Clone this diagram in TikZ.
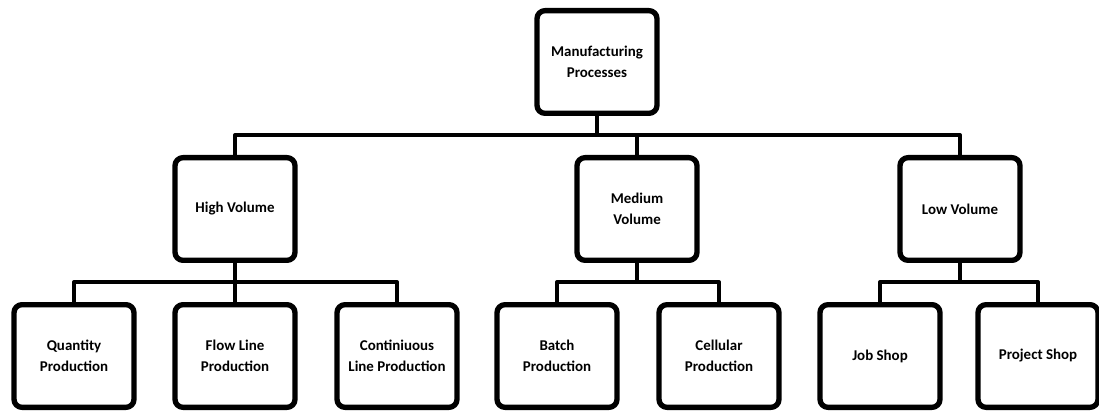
\documentclass[tikz,border=0pt]{standalone}
\usepackage{fontspec}
\setmainfont{Carlito}
\usepackage{tikz}
\usetikzlibrary{positioning,calc}

\begin{document}
\begin{tikzpicture}[
	x=0.75pt,y=-0.75pt,
	line cap=round,line join=round,
	procbox/.style={draw=black, line width=4pt, rounded corners=6pt, fill=white,
		minimum width=90pt, minimum height=77pt, align=center,
		font=\bfseries\fontsize{11.2}{16}\selectfont},
	conn/.style={black, line width=3pt}
	]
	% ---- parameters
	\def\topY{62}      % centre row 0
	\def\midY{209}     % centre row 1
	\def\botY{356}     % centre row 2
	\def\stub{19}      % drop from box to bus
	
	% page size
	\useasboundingbox (0,0) rectangle (1099,413);
	
	% ---- boxes
	\node[procbox] (mp)    at (597,\topY) {Manufacturing\\Processes};
	
	\node[procbox] (high)  at (235,\midY) {High Volume};
	\node[procbox] (med)   at (637,\midY) {Medium\\Volume};
	\node[procbox] (low)   at (960,\midY) {Low Volume};
	
	\node[procbox] (qty)   at (74,\botY)   {Quantity\\Production};
	\node[procbox] (flow)  at (235,\botY)  {Flow Line\\Production};
	\node[procbox] (cont)  at (397,\botY)  {Continiuous\\Line Production};
	\node[procbox] (batch) at (557,\botY)  {Batch\\Production};
	\node[procbox] (cell)  at (719,\botY)  {Cellular\\Production};
	\node[procbox] (job)   at (880,\botY)  {Job Shop};
	\node[procbox] (proj)  at (1038,\botY) {Project Shop};
	
	% ---- elbow links parent -> child
	\foreach \p/\c in {mp/high,mp/med,mp/low,
		high/qty,high/flow,high/cont,
		med/batch,med/cell,
		low/job,low/proj}{
		\draw[conn] (\p.south) -- ++(0,\stub) -| (\c.north);
	}
\end{tikzpicture}
\end{document}
